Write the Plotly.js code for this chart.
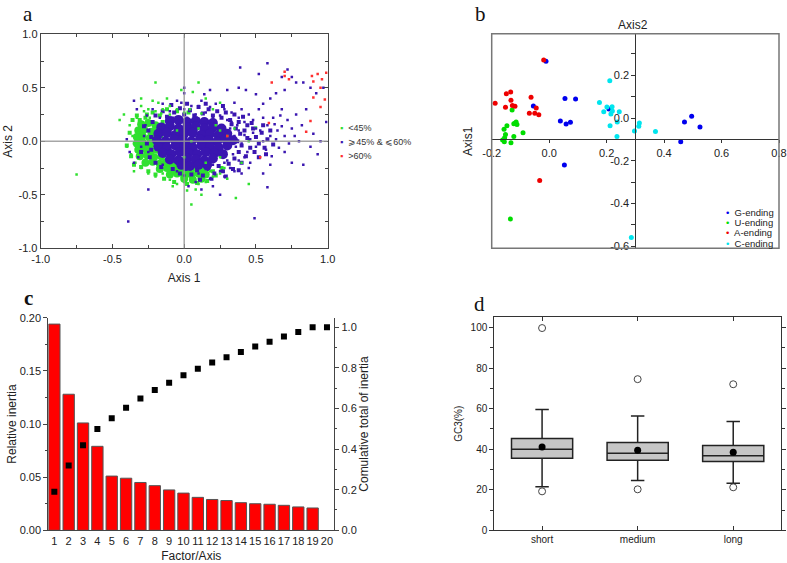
<!DOCTYPE html>
<html>
<head>
<meta charset="utf-8">
<script src="https://cdn.plot.ly/plotly-3.0.1.min.js"></script>
<style>html,body{margin:0;padding:0;background:#fff}</style>
</head>
<body>
<div id="fig" style="width:787px;height:563px"></div>
<script>
// ---- panel a: genes on axis1/axis2 as [x, y]
// dense centre of each cloud (big dots so they merge)
var lowCore = [
  [-0.3,0.16],[-0.25,0.17],[-0.2,0.15],
  [-0.32,0.1],[-0.28,0.11],[-0.23,0.09],[-0.19,0.1],
  [-0.33,0.04],[-0.29,0.05],[-0.24,0.03],[-0.2,0.04],
  [-0.33,-0.02],[-0.29,-0.01],[-0.24,-0.03],[-0.2,-0.02],
  [-0.32,-0.08],[-0.28,-0.07],[-0.23,-0.09],[-0.19,-0.08],
  [-0.31,-0.14],[-0.26,-0.13],[-0.21,-0.15],[-0.16,-0.14],
  [-0.27,-0.2],[-0.22,-0.19],[-0.17,-0.21],[-0.12,-0.2],[-0.07,-0.21],
  [-0.17,-0.26],[-0.12,-0.25],[-0.07,-0.27],[-0.02,-0.26],[0.03,-0.27],[0.08,-0.25],[0.13,-0.27],
  [-0.1,-0.31],[-0.05,-0.3],[0.0,-0.32],[0.05,-0.31],[0.1,-0.3],[0.15,-0.31],
  [0.0,-0.35],[0.06,-0.36],[0.12,-0.35]
];
var midCore = [
  [-0.1,0.19],[-0.04,0.2],[0.02,0.18],[0.08,0.19],[0.14,0.18],[0.2,0.17],
  [-0.16,0.13],[-0.1,0.14],[-0.04,0.12],[0.02,0.13],[0.08,0.14],[0.14,0.12],[0.2,0.13],[0.26,0.12],
  [-0.18,0.07],[-0.12,0.08],[-0.06,0.06],[0.0,0.07],[0.06,0.08],[0.12,0.06],[0.18,0.07],[0.24,0.06],[0.3,0.07],
  [-0.19,0.01],[-0.13,0.0],[-0.07,0.02],[-0.01,0.01],[0.05,0.0],[0.11,0.02],[0.17,0.01],[0.23,0.0],[0.29,0.02],[0.34,0.01],
  [-0.18,-0.05],[-0.12,-0.06],[-0.06,-0.04],[0.0,-0.05],[0.06,-0.06],[0.12,-0.04],[0.18,-0.05],[0.24,-0.06],[0.3,-0.04],
  [-0.15,-0.11],[-0.09,-0.12],[-0.03,-0.1],[0.03,-0.11],[0.09,-0.12],[0.15,-0.1],[0.21,-0.11],[0.27,-0.12],
  [-0.1,-0.17],[-0.04,-0.18],[0.02,-0.16],[0.08,-0.17],[0.14,-0.18],[0.2,-0.16],
  [-0.02,-0.22],[0.04,-0.23],[0.1,-0.22],[0.16,-0.22]
];
// medium-density ring around each centre
var lowRing = [
  [-0.36,0.2],[-0.33,0.24],[-0.27,0.22],[-0.22,0.27],[-0.17,0.24],[-0.12,0.3],[-0.38,0.08],[-0.4,-0.04],
  [-0.37,-0.14],[-0.35,-0.22],[-0.3,-0.24],[-0.25,-0.28],[-0.2,-0.31],[-0.14,-0.35],[-0.07,-0.38],[0.02,-0.4],
  [0.09,-0.39],[0.16,-0.37],[0.22,-0.32],[0.2,-0.28],[0.26,-0.25],[-0.15,0.18],[-0.18,0.12],[-0.14,-0.18],
  [-0.1,-0.22],[-0.05,0.28],[0.03,0.27],[-0.16,0.05],[-0.15,-0.06],[-0.13,0.14],[-0.26,0.25],[-0.31,0.2]
];
var midRing = [
  [-0.2,0.24],[-0.15,0.28],[-0.12,0.23],[-0.07,0.27],[-0.03,0.31],[0.0,0.25],[0.04,0.29],[0.07,0.24],
  [0.1,0.32],[0.13,0.26],[0.17,0.3],[0.2,0.24],[0.23,0.28],[0.26,0.22],[0.29,0.27],[0.32,0.2],
  [0.35,0.25],[0.38,0.18],[0.41,0.23],[0.44,0.15],[-0.09,0.34],[0.02,0.35],[0.15,0.35],[0.27,0.33],
  [0.36,0.12],[0.39,0.07],[0.37,0.0],[0.4,-0.04],[0.38,-0.1],[0.42,0.1],[0.44,0.03],[0.46,-0.06],
  [0.43,-0.14],[0.48,0.12],[0.5,0.04],[0.52,-0.02],[0.49,-0.1],[0.54,0.08],[0.56,-0.06],[0.58,0.02],
  [0.6,0.1],[0.62,-0.03],[0.35,-0.16],[0.4,-0.2],[0.33,0.16],[0.47,0.17],[0.55,0.15],[0.52,-0.15],
  [0.57,-0.12],[-0.08,-0.26],[-0.03,-0.3],[0.01,-0.26],[0.05,-0.31],[0.09,-0.27],[0.13,-0.32],[0.17,-0.26],
  [0.21,-0.3],[0.24,-0.23],[0.27,-0.28],[0.31,-0.21],[0.34,-0.26],[0.29,-0.33],[0.19,-0.35],[0.11,-0.36],
  [0.38,-0.27],[-0.22,0.18],[-0.25,0.1],[-0.23,0.04],[-0.26,-0.02],[-0.23,-0.08],[-0.24,-0.15],[-0.2,-0.2],
  [-0.16,-0.24],[-0.28,0.14],[-0.3,-0.1]
];
// scattered points further out
var lowPts = [
  [-0.38,0.15],[-0.36,0.05],[-0.4,-0.05],[-0.37,-0.12],[-0.34,-0.2],[-0.33,0.22],[-0.35,-0.28],[-0.3,-0.25],
  [-0.28,0.28],[-0.25,0.3],[-0.2,0.28],[-0.15,0.3],[-0.1,0.33],[-0.05,0.3],[0.0,0.27],[-0.18,0.36],
  [-0.12,0.4],[-0.22,0.38],[-0.3,0.33],[-0.42,0.25],[-0.2,0.55],[0.1,0.55],[-0.02,0.48],[0.06,0.46],
  [0.15,0.4],[0.2,0.3],[0.25,0.36],[-0.25,-0.3],[-0.2,-0.33],[-0.15,-0.3],[-0.1,-0.36],[-0.05,-0.4],
  [0.0,-0.38],[0.05,-0.35],[0.1,-0.4],[0.15,-0.38],[0.2,-0.33],[0.25,-0.3],[0.28,-0.25],[0.3,-0.35],
  [0.08,-0.45],[0.12,-0.5],[0.05,-0.59],[0.36,-0.53],[-0.75,-0.31],[0.4,-0.2],[0.45,-0.4],[0.3,0.05],
  [0.35,0.12],[0.25,-0.15],[0.22,0.15],[0.15,-0.2],[0.1,0.12],[-0.05,0.1],[0.0,-0.15],[0.05,0.0],
  [-0.1,0.25],[0.45,0.0],[0.5,0.13],[0.25,0.1],[0.12,-0.28],[0.18,-0.28],[-0.45,0.2],[-0.3,0.4],
  [-0.08,-0.42],[0.02,-0.46],[-0.33,0.1],[-0.35,-0.02],[-0.24,0.22],[-0.16,0.26],[0.04,0.3],[0.12,0.26]
];
var midPts = [
  [-0.22,0.3],[-0.15,0.35],[-0.1,0.28],[-0.05,0.38],[0.0,0.45],[0.0,0.3],[0.05,0.33],[0.08,0.25],
  [0.12,0.38],[0.15,0.27],[0.18,0.32],[0.2,0.22],[0.22,0.35],[0.25,0.24],[0.28,0.3],[0.3,0.2],
  [0.33,0.27],[0.35,0.36],[0.38,0.22],[0.4,0.3],[0.42,0.18],[0.45,0.25],[0.48,0.2],[0.5,0.12],
  [0.52,0.3],[0.55,0.22],[0.58,0.15],[0.6,0.05],[0.62,0.22],[0.65,0.1],[0.68,0.3],[0.7,0.05],
  [0.72,0.2],[0.75,0.12],[0.78,0.25],[0.8,0.0],[0.82,0.15],[0.85,0.3],[0.9,0.07],[0.95,0.0],
  [0.99,0.18],[-0.08,0.22],[0.02,0.22],[0.1,0.21],[-0.17,0.22],[-0.26,0.24],[-0.33,0.3],[-0.35,0.38],
  [0.14,0.44],[0.18,0.48],[0.3,0.48],[0.38,0.5],[0.43,0.48],[0.5,0.44],[0.55,0.35],[0.6,0.4],
  [0.64,0.45],[0.7,0.48],[0.75,0.6],[0.78,0.55],[0.83,0.55],[0.88,0.5],[0.92,0.45],[0.97,0.5],
  [0.58,0.73],[0.39,0.69],[0.52,0.63],[0.72,0.67],[0.68,0.6],
  [0.32,0.12],[0.35,0.05],[0.36,-0.05],[0.38,0.1],[0.4,-0.02],[0.42,0.06],[0.44,-0.1],[0.46,0.02],
  [0.48,0.08],[0.5,-0.05],[0.53,0.1],[0.55,0.0],[0.57,-0.08],[0.34,-0.12],[0.38,-0.18],[0.42,-0.15],
  [0.46,-0.2],[0.3,-0.18],[0.33,0.18],[0.37,0.15],
  [-0.15,-0.22],[-0.05,-0.28],[0.0,-0.32],[0.05,-0.25],[0.1,-0.3],[0.15,-0.26],[0.2,-0.22],[0.25,-0.28],
  [0.28,-0.2],[0.32,-0.25],[0.18,-0.35],[0.08,-0.38],[0.03,-0.42],[0.12,-0.45],[0.28,-0.33],[0.35,-0.28],
  [0.4,-0.3],[0.45,-0.25],[0.55,-0.3],[0.6,-0.22],[0.7,-0.1],[0.75,-0.2],[0.83,-0.22],[0.88,-0.05],
  [0.93,-0.12],[0.2,-0.42],[0.25,-0.5],
  [-0.28,0.05],[-0.25,-0.1],[-0.3,-0.05],[-0.27,0.15],[-0.32,-0.15],[-0.2,-0.2],[-0.38,-0.1],[-0.35,-0.2],
  [-0.4,0.02],[-0.39,-0.75],[0.49,-0.72],[-0.25,-0.45],[0.58,-0.43],[0.0,0.5],[0.1,0.33],[-0.02,0.36],
  [0.64,0.02],[0.66,-0.06],[0.63,0.16],[0.68,0.14],[0.73,-0.02],[0.77,0.05],[0.67,0.24],[0.61,-0.14]
];
var highPts = [
  [0.61,0.55],[0.70,0.65],[0.70,0.61],[0.73,0.58],[0.89,0.61],[0.93,0.63],[0.96,0.58],[0.99,0.64],
  [0.90,0.56],[0.95,0.5],[0.90,0.41],[0.98,0.39],[0.95,0.32],[0.88,0.19],[0.85,0.09],[0.59,0.17],
  [0.53,-0.15],[0.3,0.05]
];
var aTicks = [-1, -0.5, 0, 0.5, 1];
var aTickText = ['-1.0', '-0.5', '0.0', '0.5', '1.0'];

// ---- panel b: codons, [axis x, axis y]
var gEnding = [[-0.011,0.266],[-0.055,0.056],[0.055,0.091],[0.092,0.089],[0.039,-0.014],[0.059,-0.028],
  [0.074,-0.02],[0.208,0.042],[0.053,-0.22],[0.496,0.008],[0.471,-0.019],[0.525,-0.042],[0.458,-0.111]];
var uEnding = [[-0.129,0.038],[-0.147,-0.036],[-0.157,-0.052],[-0.152,-0.077],[-0.155,-0.092],[-0.162,-0.103],
  [-0.156,-0.111],[-0.133,-0.116],[-0.123,-0.086],[-0.12,-0.025],[-0.115,-0.019],[-0.112,-0.03],
  [-0.123,-0.027],[-0.091,-0.069],[-0.135,-0.473]];
var aEnding = [[-0.019,0.272],[-0.188,0.069],[-0.134,0.122],[-0.149,0.114],[-0.133,0.083],[-0.128,0.059],
  [-0.119,0.055],[-0.152,0.05],[-0.063,0.097],[-0.069,0.022],[-0.05,0.022],[-0.045,0.047],
  [-0.036,0.016],[-0.033,-0.292]];
var cEnding = [[0.211,0.175],[0.175,0.073],[0.201,0.052],[0.219,0.053],[0.19,0.03],[0.22,0.033],
  [0.215,0.019],[0.244,0.03],[0.237,-0.019],[0.212,-0.036],[0.236,-0.086],[0.297,-0.061],
  [0.314,-0.023],[0.312,-0.039],[0.37,-0.063],[0.286,-0.559]];
var bxTicks = [-0.2, 0, 0.2, 0.4, 0.6, 0.8];
var bxTickText = ['-0.2', '0.0', '0.2', '0.4', '0.6', '0.8'];
var byTicks = [-0.6, -0.4, -0.2, 0, 0.2];
var byTickText = ['-0.6', '-0.4', '-0.2', '0.0', '0.2'];

// ---- panel c: inertia per factor
var factors = [1,2,3,4,5,6,7,8,9,10,11,12,13,14,15,16,17,18,19,20];
var relInertia = [0.194,0.128,0.101,0.079,0.051,0.049,0.045,0.042,0.038,0.035,
  0.031,0.029,0.028,0.026,0.025,0.0245,0.0235,0.022,0.021];
var cumInertia = [0.19,0.319,0.419,0.499,0.552,0.603,0.649,0.691,0.727,0.764,
  0.795,0.826,0.852,0.878,0.905,0.929,0.954,0.977,1.0,1.0];

// ---- panel d: GC3 by gene length
var lenGroups = ['short','medium','long'];
var gcQ1 = [35.5,34.5,33.9];
var gcMedian = [40.0,38.0,36.8];
var gcQ3 = [45.2,43.3,41.8];
var gcLow = [21.5,24.5,23.2];
var gcHigh = [59.5,56.4,53.6];
var gcMean = [41.1,39.5,38.5];
var outGroup = ['short','short','medium','medium','long','long'];
var outVals = [99.7,19.2,74.5,20.2,72.0,21.2];

function xs(p){ return p.map(function(d){ return d[0]; }); }
function ys(p){ return p.map(function(d){ return d[1]; }); }
// pixel -> paper
function fx(p){ return p/787; }
function fy(p){ return 1 - p/563; }

var cLow = '#2fe02f', cMid = '#3a16b0', cHigh = '#ff3030';

function cloud(pts, color, size, symbol) {
  return {x: xs(pts), y: ys(pts), type: 'scatter', mode: 'markers', xaxis: 'x', yaxis: 'y',
    marker: {color: color, size: size, symbol: symbol || 'circle'}};
}

var data = [
  cloud(lowCore, cLow, 8),
  cloud(lowRing, cLow, 4, 'square'),
  cloud(midCore, cMid, 10),
  cloud(midRing, cMid, 4, 'square'),
  cloud(lowPts, cLow, 2.5, 'square'),
  cloud(midPts, cMid, 2.5, 'square'),
  cloud(highPts, cHigh, 2.5, 'square'),

  {x: xs(gEnding), y: ys(gEnding), type: 'scatter', mode: 'markers', xaxis: 'x2', yaxis: 'y2',
   marker: {color: '#0000ee', size: 5}},
  {x: xs(uEnding), y: ys(uEnding), type: 'scatter', mode: 'markers', xaxis: 'x2', yaxis: 'y2',
   marker: {color: '#00dd00', size: 5}},
  {x: xs(aEnding), y: ys(aEnding), type: 'scatter', mode: 'markers', xaxis: 'x2', yaxis: 'y2',
   marker: {color: '#ee0000', size: 5}},
  {x: xs(cEnding), y: ys(cEnding), type: 'scatter', mode: 'markers', xaxis: 'x2', yaxis: 'y2',
   marker: {color: '#00e5ee', size: 5}},

  {x: factors.slice(0, relInertia.length), y: relInertia, type: 'bar', xaxis: 'x3', yaxis: 'y3',
   width: 0.79, marker: {color: '#ff0000', line: {color: '#555', width: 1}}},
  {x: factors, y: cumInertia, type: 'scatter', mode: 'markers', xaxis: 'x3', yaxis: 'y4',
   marker: {color: '#000', size: 6, symbol: 'square'}},

  {type: 'box', x: lenGroups, q1: gcQ1, median: gcMedian, q3: gcQ3, lowerfence: gcLow, upperfence: gcHigh,
   xaxis: 'x4', yaxis: 'y5', boxpoints: false, width: 0.64, whiskerwidth: 0.22,
   fillcolor: '#c6c6c6', line: {color: '#222', width: 1.5}},
  {x: lenGroups, y: gcMean, type: 'scatter', mode: 'markers', xaxis: 'x4', yaxis: 'y5',
   marker: {color: '#000', size: 7}},
  {x: outGroup, y: outVals, type: 'scatter', mode: 'markers', xaxis: 'x4', yaxis: 'y5',
   marker: {color: '#444', size: 7, symbol: 'circle-open', line: {width: 1}}}
];

var ink = '#444';
var tickFont = {size: 11, color: '#222'};

// panel b: axes cross at x=0.3, y=-0.1
var bXr = [-0.2, 0.8], bYr = [-0.61, 0.395];
var bXd = [fx(491.7), fx(779)], bYd = [fy(248.3), fy(33.7)];
var bCrossX = 0.3, bCrossY = -0.1;
var bPosY = bXd[0] + (bCrossX - bXr[0]) / (bXr[1] - bXr[0]) * (bXd[1] - bXd[0]);
var bPosX = bYd[0] + (bCrossY - bYr[0]) / (bYr[1] - bYr[0]) * (bYd[1] - bYd[0]);

var layout = {
  width: 787, height: 563,
  margin: {l: 0, r: 0, t: 0, b: 0},
  paper_bgcolor: '#fff', plot_bgcolor: 'rgba(0,0,0,0)',
  font: {family: 'Liberation Sans, Arial, sans-serif', color: '#222'},
  showlegend: false,
  bargap: 0,

  xaxis: {domain: [fx(40.7), fx(327.7)], anchor: 'y', range: [-1, 1], tickvals: aTicks, ticktext: aTickText,
    showline: true, linecolor: ink, mirror: 'allticks', ticks: 'inside', ticklen: 4,
    tickcolor: ink, minor: {dtick: 0.25, ticks: 'inside', ticklen: 3, tickcolor: ink},
    showgrid: false, zeroline: false, tickfont: tickFont,
    title: {text: 'Axis 1', font: {size: 12}, standoff: 10}},
  yaxis: {domain: [fy(248.3), fy(34.3)], anchor: 'x', range: [-1, 1], tickvals: aTicks, ticktext: aTickText,
    showline: true, linecolor: ink, mirror: 'allticks', ticks: 'inside', ticklen: 4,
    tickcolor: ink, minor: {dtick: 0.25, ticks: 'inside', ticklen: 3, tickcolor: ink},
    showgrid: false, zeroline: false, tickfont: tickFont,
    title: {text: 'Axis 2', font: {size: 12}, standoff: 3}},

  xaxis2: {domain: bXd, anchor: 'free', position: bPosX, range: bXr, tickvals: bxTicks, ticktext: bxTickText,
    showline: true, linecolor: '#333', ticks: 'outside', ticklen: 3, tickcolor: '#333',
    showgrid: false, zeroline: false, tickfont: {size: 11, color: '#222'}},
  yaxis2: {domain: bYd, anchor: 'free', position: bPosY, range: bYr, tickvals: byTicks, ticktext: byTickText,
    showline: true, linecolor: '#333', ticks: 'outside', ticklen: 4, tickcolor: '#333',
    minor: {dtick: 0.1, ticks: 'outside', ticklen: 4, tickcolor: '#333'},
    showgrid: false, zeroline: false, tickfont: {size: 11, color: '#222'}},

  xaxis3: {domain: [fx(48.3), fx(334.3)], anchor: 'y3', range: [0.58, 20.51], dtick: 1, tick0: 1,
    showline: true, linecolor: ink, ticks: '', showgrid: false, zeroline: false, tickfont: tickFont,
    title: {text: 'Factor/Axis', font: {size: 12}, standoff: 12}},
  yaxis3: {domain: [fy(530.3), fy(317.7)], anchor: 'x3', range: [0, 0.2], dtick: 0.05,
    tickformat: '.2f', showline: true, linecolor: ink, ticks: 'outside', ticklen: 4, tickcolor: ink,
    minor: {dtick: 0.025, ticks: 'outside', ticklen: 2, tickcolor: ink},
    showgrid: false, zeroline: false, tickfont: tickFont,
    title: {text: 'Relative inertia', font: {size: 12}, standoff: 0}},
  yaxis4: {overlaying: 'y3', side: 'right', anchor: 'x3', range: [0, 1.047], dtick: 0.2,
    tickformat: '.1f', showline: true, linecolor: ink, ticks: 'outside', ticklen: 4, tickcolor: ink,
    minor: {dtick: 0.1, ticks: 'outside', ticklen: 2, tickcolor: ink},
    showgrid: false, zeroline: false, tickfont: tickFont,
    title: {text: 'Comulative total of inertia', font: {size: 12}, standoff: 0}},

  xaxis4: {domain: [fx(494.3), fx(781)], anchor: 'y5', type: 'category', range: [-0.5, 2.5],
    showline: true, linecolor: '#333', mirror: 'ticks', ticks: 'inside', ticklen: 4, tickcolor: '#333',
    showgrid: false, zeroline: false, tickfont: {size: 10, color: '#222'}},
  yaxis5: {domain: [fy(530.3), fy(317.3)], anchor: 'x4', range: [0, 105], dtick: 20,
    showline: true, linecolor: '#333', mirror: 'ticks', ticks: 'outside', ticklen: 4, tickcolor: '#333',
    minor: {dtick: 10, ticks: 'outside', ticklen: 3, tickcolor: '#333'},
    showgrid: false, zeroline: false, tickfont: {size: 10, color: '#222'},
    title: {text: 'GC3(%)', font: {size: 10}, standoff: 6}},

  shapes: [
    // zero lines of panel a, drawn over the cloud
    {type: 'line', xref: 'x', yref: 'y domain', x0: 0, x1: 0, y0: 0, y1: 1, layer: 'above',
     line: {color: 'rgba(150,150,150,0.85)', width: 1.5}},
    {type: 'line', xref: 'x domain', yref: 'y', x0: 0, x1: 1, y0: 0, y1: 0, layer: 'above',
     line: {color: 'rgba(150,150,150,0.85)', width: 1.5}},
    {type: 'rect', xref: 'x2 domain', yref: 'y2 domain', x0: 0, x1: 1, y0: 0, y1: 1,
     line: {color: '#777', width: 1.5}}
  ],

  annotations: [
    {text: 'a', x: fx(28), y: fy(14)},
    {text: 'b', x: fx(480), y: fy(14)},
    {text: '<b>c</b>', x: fx(28), y: fy(298)},
    {text: 'd', x: fx(479), y: fy(304)}
  ].map(function(a){
    return {text: a.text, x: a.x, y: a.y, xref: 'paper', yref: 'paper', showarrow: false,
      xanchor: 'center', yanchor: 'middle', font: {family: 'Liberation Serif, serif', size: 21, color: '#111'}};
  }).concat([
    {text: 'Axis2', x: fx(633), y: fy(25), angle: 0},
    {text: 'Axis1', x: fx(468), y: fy(141), angle: -90}
  ].map(function(a){
    return {text: a.text, x: a.x, y: a.y, xref: 'paper', yref: 'paper', showarrow: false,
      xanchor: 'center', yanchor: 'middle', textangle: a.angle, font: {size: 12, color: '#222'}};
  })).concat([
    [cLow, '&lt;45%', 128], [cMid, '⩾45% &amp; ⩽60%', 142], [cHigh, '&gt;60%', 156]
  ].map(function(r){
    return {text: '<span style="color:' + r[0] + '">▪</span>  ' + r[1], x: fx(338), y: fy(r[2]),
      xref: 'paper', yref: 'paper', showarrow: false, xanchor: 'left', yanchor: 'middle',
      font: {size: 9, color: '#333'}};
  })).concat([
    ['#0000ee', 'G-ending', 212], ['#00dd00', 'U-ending', 222.3],
    ['#ee0000', 'A-ending', 232.6], ['#00e5ee', 'C-ending', 243]
  ].map(function(r){
    return {text: '<span style="color:' + r[0] + '">•</span>  ' + r[1], x: fx(724), y: fy(r[2]),
      xref: 'paper', yref: 'paper', showarrow: false, xanchor: 'left', yanchor: 'middle',
      font: {size: 9.5, color: '#222'}};
  }))
};

Plotly.newPlot('fig', data, layout, {displayModeBar: false, staticPlot: true});
</script>
</body>
</html>
